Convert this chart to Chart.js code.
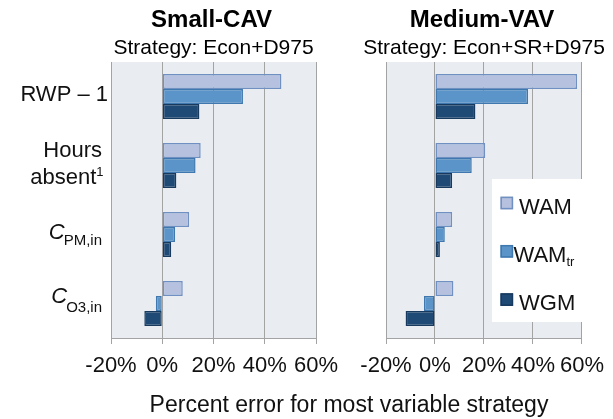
<!DOCTYPE html>
<html>
<head>
<meta charset="utf-8">
<script src="https://cdn.jsdelivr.net/npm/chart.js@4.4.1/dist/chart.umd.min.js"></script>
<style>
  html, body { margin: 0; padding: 0; background: #fff; }
  #wrap { position: relative; width: 613px; height: 419px; }
  canvas { position: absolute; left: 0; top: 0; }
</style>
</head>
<body>
<div id="wrap">
  <canvas id="smallCav" width="613" height="419"></canvas>
  <canvas id="mediumVav" width="613" height="419"></canvas>
</div>
<script>
const categories = ['RWP – 1', 'Hours absent1', 'CPM,in', 'CO3,in'];
const seriesNames = ['WAM', 'WAMtr', 'WGM'];
const xTickValues = [-20, 0, 20, 40, 60];

const smallWam = [46.5, 15, 10.5, 8];
const smallWamTr = [31.5, 13, 5, -2.5];
const smallWgm = [14.5, 5.5, 3.5, -7];

const mediumWam = [58, 20.5, 7, 7.5];
const mediumWamTr = [38, 15, 4, -4.5];
const mediumWgm = [16.5, 7, 2, -12];

const FONT = '"Liberation Sans", Arial, Helvetica, sans-serif';
const TEXT = '#111';
const GRID = '#a3a3a3';
const PLOT_BG = '#e9edf2';

const fills = ['#b6c1df', '#5b94c8', '#1f4a75'];
const borders = ['#7090c2', '#3f78ae', '#183a5e'];

Chart.defaults.font.family = FONT;

// light plot background, behind grid and bars
const plotBackground = {
  id: 'plotBackground',
  beforeDraw(chart) {
    const { ctx, chartArea: a } = chart;
    ctx.save();
    ctx.fillStyle = PLOT_BG;
    ctx.fillRect(a.left, a.top, a.right - a.left, a.bottom - a.top);
    ctx.restore();
  }
};

const panelTitle = {
  id: 'panelTitle',
  afterDraw(chart, args, opts) {
    const { ctx, chartArea: a } = chart;
    const cx = (a.left + a.right) / 2;
    ctx.save();
    ctx.fillStyle = '#000';
    ctx.textAlign = 'center';
    ctx.textBaseline = 'alphabetic';
    ctx.font = 'bold 24px ' + FONT;
    ctx.fillText(opts.title, cx - 2, 27);
    ctx.font = '21px ' + FONT;
    ctx.fillText(opts.subtitle, cx, 54);
    ctx.restore();
  }
};

// category names with italics, sub- and superscripts
const categoryLabels = {
  id: 'categoryLabels',
  afterDraw(chart) {
    const { ctx, chartArea, scales: { y } } = chart;
    const right = chartArea.left - 9;
    ctx.save();
    ctx.fillStyle = TEXT;
    ctx.textAlign = 'right';
    ctx.textBaseline = 'alphabetic';
    categories.forEach((name, i) => {
      const cy = y.getPixelForValue(i);
      if (i === 0) {
        ctx.font = '22px ' + FONT;
        ctx.fillText(name, right + 6, cy + 4.5);
      } else if (i === 1) {
        ctx.font = '22px ' + FONT;
        ctx.fillText('Hours', right, cy - 9);
        ctx.font = '13px ' + FONT;
        const supW = ctx.measureText('1').width;
        ctx.fillText('1', right + 1.5, cy + 10);
        ctx.font = '22px ' + FONT;
        ctx.fillText('absent', right + 1.5 - supW, cy + 18);
      } else {
        const sub = i === 2 ? 'PM,in' : 'O3,in';
        const base = i === 2 ? cy + 4.8 : cy - 0.5;
        const subBase = i === 2 ? cy + 10.5 : cy + 8.2;
        ctx.font = '15px ' + FONT;
        const subW = ctx.measureText(sub).width;
        ctx.fillText(sub, right, subBase);
        ctx.font = 'italic 22px ' + FONT;
        ctx.fillText('C', right - subW + 1, base);
      }
    });
    ctx.restore();
  }
};

const legendBox = {
  id: 'legendBox',
  afterDraw(chart) {
    const { ctx, chartArea } = chart;
    const left = 492, top = 179, bottom = 322;
    ctx.save();
    ctx.fillStyle = '#fff';
    ctx.fillRect(left, top, chartArea.right + 1.5 - left, bottom - top);
    ctx.textAlign = 'left';
    ctx.textBaseline = 'alphabetic';
    chart.data.datasets.forEach((ds, i) => {
      const cy = 203 + i * 48.3;
      ctx.fillStyle = ds.backgroundColor;
      ctx.strokeStyle = ds.borderColor;
      ctx.lineWidth = 1.5;
      ctx.fillRect(500.5, cy - 6.3, 12.6, 12.6);
      ctx.strokeRect(501.2, cy - 5.6, 11.2, 11.2);
      ctx.fillStyle = TEXT;
      ctx.font = '22px ' + FONT;
      const name = seriesNames[i];
      if (name === 'WAMtr') {
        ctx.fillText('WAM', 513.5, cy + 10.5);
        const w = ctx.measureText('WAM').width;
        ctx.font = '13px ' + FONT;
        ctx.fillText('tr', 513.5 + w, cy + 15);
      } else {
        ctx.fillText(name, 519, cy + 10.5);
      }
    });
    ctx.restore();
  }
};

const axisTitle = {
  id: 'axisTitle',
  afterDraw(chart) {
    const { ctx } = chart;
    ctx.save();
    ctx.fillStyle = TEXT;
    ctx.textAlign = 'center';
    ctx.textBaseline = 'alphabetic';
    ctx.font = '23px ' + FONT;
    ctx.fillText('Percent error for most variable strategy', 349, 412);
    ctx.restore();
  }
};

function makePanel(canvasId, title, subtitle, wam, wamTr, wgm, padding, extraPlugins) {
  const values = [wam, wamTr, wgm];
  return new Chart(document.getElementById(canvasId), {
    type: 'bar',
    data: {
      labels: categories,
      datasets: seriesNames.map((name, i) => ({
        label: name,
        data: values[i],
        backgroundColor: fills[i],
        borderColor: borders[i],
        borderWidth: 1.5,
        borderSkipped: false,
        categoryPercentage: 0.652,
        barPercentage: 1
      }))
    },
    options: {
      indexAxis: 'y',
      responsive: false,
      devicePixelRatio: 1,
      animation: false,
      events: [],
      layout: { padding },
      plugins: {
        legend: { display: false },
        tooltip: { enabled: false },
        panelTitle: { title, subtitle }
      },
      scales: {
        x: {
          min: -20,
          max: 60,
          afterBuildTicks: (scale) => { scale.ticks = xTickValues.map((v) => ({ value: v })); },
          afterFit: (scale) => { scale.height = 81; },
          ticks: {
            color: TEXT,
            font: { size: 22 },
            padding: 9,
            autoSkip: false,
            maxRotation: 0,
            minRotation: 0,
            callback: (v) => v + '%'
          },
          grid: { color: GRID, lineWidth: 1, tickLength: 6 },
          border: { color: GRID, width: 1 }
        },
        y: { display: false }
      }
    },
    plugins: [plotBackground, panelTitle, ...extraPlugins]
  });
}

makePanel('smallCav', 'Small-CAV', 'Strategy: Econ+D975',
  smallWam, smallWamTr, smallWgm,
  { top: 62, left: 111, right: 297, bottom: 0 }, [categoryLabels]);

makePanel('mediumVav', 'Medium-VAV', 'Strategy: Econ+SR+D975',
  mediumWam, mediumWamTr, mediumWgm,
  { top: 62, left: 386, right: 24, bottom: 0 }, [legendBox, axisTitle]);
</script>
</body>
</html>
